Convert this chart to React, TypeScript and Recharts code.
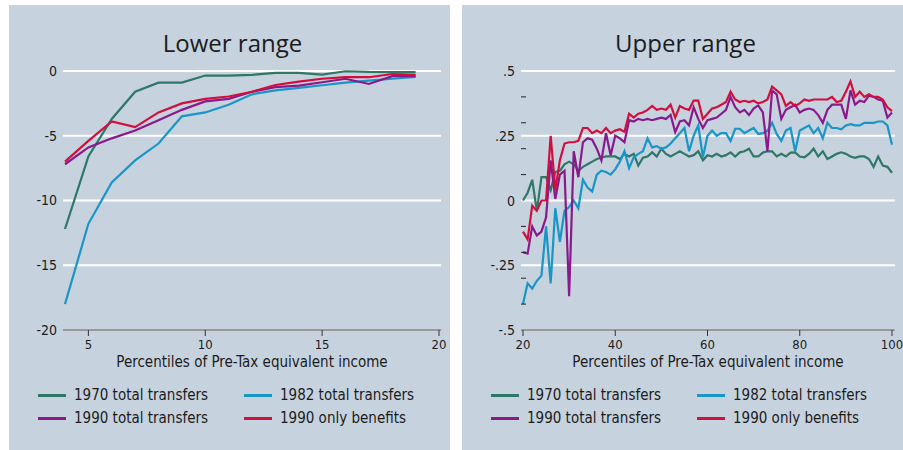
import { CartesianGrid, Line, LineChart, ReferenceLine, XAxis, YAxis } from "recharts";

// series order matches the legend: 1970, 1982, 1990 total, 1990 only benefits
const seriesNames = ["1970 total transfers", "1982 total transfers", "1990 total transfers", "1990 only benefits"];
const seriesKeys = ["t1970", "t1982", "t1990", "b1990"];
const seriesColors = ["#2f7767", "#1a96c6", "#8a1a8c", "#d10f3e"];

// lower range: percentiles 4..19
const lowerPct = [4, 5, 6, 7, 8, 9, 10, 11, 12, 13, 14, 15, 16, 17, 18, 19];
const lower1970 = [-12.2, -6.6, -3.7, -1.6, -0.9, -0.9, -0.35, -0.35, -0.3, -0.15, -0.15, -0.28, -0.02, -0.07, -0.08, -0.08];
const lower1982 = [-18.0, -11.8, -8.6, -6.9, -5.6, -3.5, -3.2, -2.6, -1.8, -1.5, -1.3, -1.1, -0.9, -0.75, -0.6, -0.45];
const lower1990 = [-7.2, -5.9, -5.2, -4.6, -3.8, -3.0, -2.35, -2.15, -1.6, -1.25, -1.13, -0.87, -0.6, -1.0, -0.4, -0.4];
const lowerBen1990 = [-7.0, -5.4, -3.9, -4.33, -3.2, -2.5, -2.15, -1.97, -1.6, -1.08, -0.82, -0.6, -0.48, -0.48, -0.23, -0.3];
const lowerXTicks = [5, 10, 15, 20];
const lowerYTicks = [0, -5, -10, -15, -20];

// upper range: percentiles 20..100
const upperPct = Array.from({ length: 81 }, (_, i) => 20 + i);
const upper1970 = [
  0.0, 0.03, 0.08, -0.04, 0.09, 0.09, 0.04, 0.11, 0.115, 0.14,
  0.15, 0.14, 0.115, 0.13, 0.14, 0.15, 0.16, 0.165, 0.17, 0.17,
  0.17, 0.16, 0.18, 0.17, 0.18, 0.135, 0.165, 0.17, 0.186, 0.17,
  0.2, 0.18, 0.17, 0.18, 0.19, 0.18, 0.17, 0.175, 0.19, 0.155,
  0.175, 0.17, 0.18, 0.17, 0.175, 0.186, 0.17, 0.186, 0.19, 0.2,
  0.17, 0.17, 0.185, 0.19, 0.19, 0.17, 0.18, 0.17, 0.185, 0.186,
  0.17, 0.167, 0.18, 0.2, 0.17, 0.19, 0.16, 0.17, 0.18, 0.186,
  0.18, 0.17, 0.165, 0.17, 0.17, 0.16, 0.13, 0.17, 0.135, 0.13,
  0.107,
];
const upper1982 = [
  -0.4, -0.32, -0.34, -0.31, -0.29, -0.1, -0.32, -0.03, -0.16, -0.04,
  -0.025, 0.0, -0.03, 0.08, 0.05, 0.035, 0.1, 0.115, 0.11, 0.1,
  0.12, 0.15, 0.19, 0.125, 0.167, 0.18, 0.19, 0.24, 0.205, 0.21,
  0.2, 0.205, 0.22, 0.24, 0.26, 0.28, 0.19, 0.25, 0.29, 0.167,
  0.25, 0.27, 0.25, 0.26, 0.26, 0.23, 0.277, 0.277, 0.26, 0.27,
  0.28, 0.257, 0.26, 0.27, 0.3, 0.257, 0.23, 0.27, 0.28, 0.19,
  0.27, 0.28, 0.29, 0.26, 0.28, 0.24, 0.3, 0.28, 0.28, 0.275,
  0.29, 0.295, 0.29, 0.29, 0.3, 0.3, 0.3, 0.305, 0.305, 0.29,
  0.215,
];
const upper1990 = [
  -0.2, -0.205, -0.1, -0.135, -0.12, -0.065, 0.155, 0.006, 0.1, 0.115,
  -0.37, 0.19, 0.09, 0.225, 0.24, 0.235, 0.2, 0.155, 0.26, 0.175,
  0.25, 0.24, 0.225, 0.31, 0.305, 0.315, 0.31, 0.315, 0.31, 0.315,
  0.32, 0.315, 0.33, 0.264, 0.305, 0.31, 0.29, 0.36, 0.315, 0.28,
  0.31, 0.315, 0.32, 0.335, 0.35, 0.4, 0.36, 0.34, 0.35, 0.33,
  0.355, 0.367, 0.34, 0.19, 0.425, 0.41, 0.315, 0.35, 0.36, 0.37,
  0.34, 0.35, 0.355, 0.35, 0.33, 0.3, 0.35, 0.37, 0.37, 0.37,
  0.315, 0.425, 0.37, 0.385, 0.38, 0.405, 0.4, 0.39, 0.385, 0.32,
  0.34,
];
const upperBen1990 = [
  -0.12, -0.15, -0.02, -0.04, 0.0, 0.0, 0.25, 0.04, 0.155, 0.22,
  0.225, 0.225, 0.23, 0.28, 0.28, 0.26, 0.27, 0.26, 0.28, 0.26,
  0.27, 0.275, 0.265, 0.335, 0.32, 0.335, 0.34, 0.35, 0.365, 0.35,
  0.355, 0.35, 0.37, 0.32, 0.365, 0.355, 0.35, 0.386, 0.386, 0.315,
  0.335, 0.355, 0.36, 0.37, 0.38, 0.42, 0.39, 0.38, 0.385, 0.38,
  0.385, 0.375, 0.38, 0.39, 0.44, 0.425, 0.41, 0.365, 0.38, 0.365,
  0.375, 0.39, 0.385, 0.39, 0.39, 0.39, 0.39, 0.4, 0.38, 0.385,
  0.42, 0.46, 0.4, 0.42, 0.4, 0.41, 0.4, 0.4, 0.39, 0.36,
  0.345,
];
const upperXTicks = [20, 40, 60, 80, 100];
const upperYTicks = [-0.5, -0.4, -0.3, -0.25, -0.2, -0.1, 0, 0.1, 0.2, 0.25, 0.3, 0.4, 0.5];
const upperGrid = [0.5, 0.25, 0, -0.25, -0.5];

const xLabel = "Percentiles of Pre-Tax equivalent income";

const lowerData = lowerPct.map((p, i) => ({
  p,
  t1970: lower1970[i],
  t1982: lower1982[i],
  t1990: lower1990[i],
  b1990: lowerBen1990[i],
}));
const upperData = upperPct.map((p, i) => ({
  p,
  t1970: upper1970[i],
  t1982: upper1982[i],
  t1990: upper1990[i],
  b1990: upperBen1990[i],
}));

const BG = "#c6d2de";
const TEXT = "#1c1c1c";
const NARROW = "'Liberation Sans Narrow', 'DejaVu Sans Condensed', 'Open Sans', sans-serif";
const PANEL_W = 441;
const UPPER_AXIS_W = 59;

const fmtUpper = (v: number) => (v === 0 ? "0" : String(v).replace("0.", "."));

function UpperTick(props: any) {
  const { x, y, payload } = props;
  const v = payload.value as number;
  if (!upperGrid.includes(v)) {
    return <line x1={UPPER_AXIS_W} x2={UPPER_AXIS_W + 5} y1={y} y2={y} stroke="#222" strokeWidth={1} />;
  }
  return (
    <text x={x} y={y} dy={5} textAnchor="end" fontSize={14} fill={TEXT} fontFamily={NARROW}>
      {fmtUpper(v)}
    </text>
  );
}

function Legend() {
  return (
    <div
      style={{
        position: "absolute",
        top: 380,
        left: 29,
        display: "grid",
        gridTemplateColumns: "206px 200px",
        rowGap: 3,
        fontFamily: NARROW,
        fontSize: 15,
        color: TEXT,
      }}
    >
      {seriesNames.map((name, i) => (
        <div key={name} style={{ display: "flex", alignItems: "center", height: 20 }}>
          <span style={{ display: "inline-block", width: 28, height: 3, background: seriesColors[i], marginRight: 8 }} />
          {name}
        </div>
      ))}
    </div>
  );
}

function Title({ text }: { text: string }) {
  return (
    <div
      style={{
        position: "absolute",
        top: 21,
        left: 0,
        width: PANEL_W + 6,
        textAlign: "center",
        fontFamily: "'Open Sans', sans-serif",
        fontSize: 24,
        color: TEXT,
      }}
    >
      {text}
    </div>
  );
}

function lines() {
  return seriesKeys.map((k, i) => (
    <Line
      key={k}
      type="linear"
      dataKey={k}
      name={seriesNames[i]}
      stroke={seriesColors[i]}
      strokeWidth={2.2}
      dot={false}
      isAnimationActive={false}
    />
  ));
}

const tickStyle = { fontSize: 13, fill: TEXT, fontFamily: NARROW };
const labelStyle = { value: xLabel, position: "insideBottom" as const, offset: 3, fontSize: 15, fill: TEXT, fontFamily: NARROW };

export default function App() {
  return (
    <div style={{ position: "absolute", top: 0, left: 0, width: 903, height: 450, background: "#fff", overflow: "hidden" }}>
      <div style={{ position: "absolute", left: 9, top: 5, width: PANEL_W, height: 445, background: BG }}>
        <Title text="Lower range" />
        <LineChart width={PANEL_W} height={375} data={lowerData} margin={{ top: 66, right: 9, bottom: 10, left: 0 }}>
          <CartesianGrid vertical={false} stroke="#ffffff" strokeWidth={2} />
          <XAxis
            type="number"
            dataKey="p"
            domain={[4, 20]}
            ticks={lowerXTicks}
            padding={{ left: 2, right: 2 }}
            height={40}
            tick={tickStyle}
            tickSize={6}
            tickMargin={4}
            stroke="#333"
            label={labelStyle}
          />
          <YAxis
            type="number"
            domain={[-20, 0]}
            ticks={lowerYTicks}
            width={54}
            axisLine={false}
            tickLine={false}
            tickSize={4}
            tick={{ ...tickStyle, fontSize: 14 }}
          />
          {lines()}
        </LineChart>
        <Legend />
      </div>
      <div style={{ position: "absolute", left: 462, top: 5, width: PANEL_W, height: 445, background: BG }}>
        <Title text="Upper range" />
        <LineChart width={PANEL_W} height={375} data={upperData} margin={{ top: 66, right: 8, bottom: 10, left: 0 }}>
          {upperGrid.map((v) => (
            <ReferenceLine key={v} y={v} stroke="#ffffff" strokeWidth={2} />
          ))}
          <XAxis
            type="number"
            dataKey="p"
            domain={[20, 100]}
            ticks={upperXTicks}
            padding={{ left: 2, right: 3 }}
            height={40}
            tick={tickStyle}
            tickSize={6}
            tickMargin={4}
            stroke="#333"
            label={labelStyle}
          />
          <YAxis
            type="number"
            domain={[-0.5, 0.5]}
            ticks={upperYTicks}
            interval={0}
            width={UPPER_AXIS_W}
            axisLine={false}
            tickLine={false}
            tickSize={4}
            tick={<UpperTick />}
          />
          {lines()}
        </LineChart>
        <Legend />
      </div>
    </div>
  );
}
